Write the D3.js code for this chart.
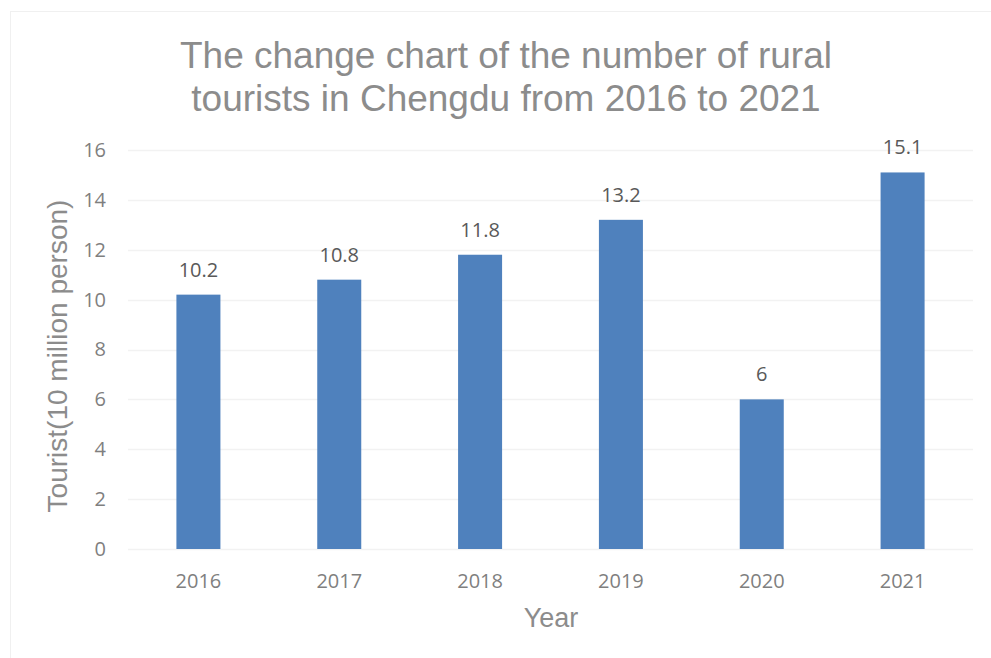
<!DOCTYPE html>
<html lang="en">
<head>
    <meta charset="UTF-8">
    <title>Rural tourists in Chengdu</title>
    <script src="https://d3js.org/d3.v7.min.js"></script>
    <style>
        body { margin: 0; background: #fff; }
        svg { display: block; }
    </style>
</head>
<body>
    <svg id="chart" width="991" height="658"></svg>
    <script>
        // data
        const years = ['2016', '2017', '2018', '2019', '2020', '2021'];
        const tourists = [10.2, 10.8, 11.8, 13.2, 6, 15.1];
        const yTicks = [0, 2, 4, 6, 8, 10, 12, 14, 16];

        const margin = { top: 150, right: 18, bottom: 109, left: 128 };
        const width = 991 - margin.left - margin.right;
        const height = 658 - margin.top - margin.bottom;

        const root = d3.select('#chart');

        // chart frame
        root.append('rect')
            .attr('x', 10.5).attr('y', 11.5)
            .attr('width', 1000).attr('height', 700)
            .attr('fill', '#fff')
            .attr('stroke', '#f0f0f0');

        const svg = root.append('g')
            .attr('transform', `translate(${margin.left},${margin.top})`);

        const x = d3.scaleBand()
            .domain(years)
            .range([0, width])
            .paddingInner(0.6875)
            .paddingOuter(0.34375);

        const y = d3.scaleLinear()
            .domain([0, 16])
            .range([height, 0]);

        // gridlines
        svg.append('g')
            .selectAll('line')
            .data(yTicks)
            .enter().append('line')
            .attr('x1', 0).attr('x2', width)
            .attr('y1', d => Math.round(y(d)) + 0.5)
            .attr('y2', d => Math.round(y(d)) + 0.5)
            .attr('stroke', '#f2f2f2')
            .attr('stroke-width', 1.5);

        // bars
        svg.selectAll('.bar')
            .data(tourists)
            .enter().append('rect')
            .attr('class', 'bar')
            .attr('x', (d, i) => x(years[i]))
            .attr('y', d => y(d))
            .attr('width', x.bandwidth())
            .attr('height', d => height - y(d))
            .attr('fill', '#4f81bd');

        // value labels
        svg.selectAll('.val')
            .data(tourists)
            .enter().append('text')
            .attr('x', (d, i) => x(years[i]) + x.bandwidth() / 2)
            .attr('y', d => y(d) - 18)
            .attr('text-anchor', 'middle')
            .style('font-family', '"Open Sans", "Noto Sans", sans-serif')
            .style('font-size', '20px')
            .style('fill', '#595959')
            .text(d => d);

        // y axis
        const yAxis = d3.axisLeft(y).tickValues(yTicks).tickSize(0).tickPadding(22);
        const yg = svg.append('g').call(yAxis);
        yg.select('.domain').remove();
        yg.selectAll('text')
            .style('font-family', '"Open Sans", "Noto Sans", sans-serif')
            .style('font-size', '20px')
            .style('fill', '#7f7f7f');

        // x axis
        const xAxis = d3.axisBottom(x).tickSize(0).tickPadding(25);
        const xg = svg.append('g')
            .attr('transform', `translate(0,${height})`)
            .call(xAxis);
        xg.select('.domain').remove();
        xg.selectAll('text')
            .style('font-family', '"Open Sans", "Noto Sans", sans-serif')
            .style('font-size', '20px')
            .style('fill', '#7f7f7f');

        // axis titles
        root.append('text')
            .attr('transform', `translate(67,356) rotate(-90)`)
            .attr('text-anchor', 'middle')
            .style('font-family', '"Liberation Sans", Arial, sans-serif')
            .style('font-size', '28px')
            .style('fill', '#8c8c8c')
            .text('Tourist(10 million person)');

        root.append('text')
            .attr('x', 551)
            .attr('y', 627)
            .attr('text-anchor', 'middle')
            .style('font-family', '"Liberation Sans", Arial, sans-serif')
            .style('font-size', '27px')
            .style('fill', '#8c8c8c')
            .text('Year');

        // title
        const title = root.append('text')
            .attr('text-anchor', 'middle')
            .style('font-family', '"Liberation Sans", Arial, sans-serif')
            .style('font-size', '37px')
            .style('fill', '#8c8c8c');
        title.append('tspan').attr('x', 506).attr('y', 68)
            .text('The change chart of the number of rural');
        title.append('tspan').attr('x', 506).attr('y', 111)
            .text('tourists in Chengdu from 2016 to 2021');
    </script>
</body>
</html>
